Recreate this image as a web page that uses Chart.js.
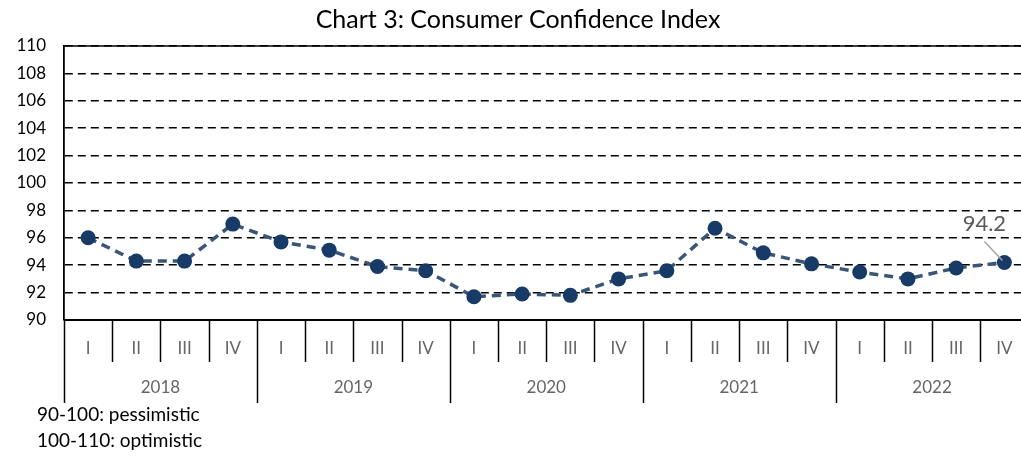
<!DOCTYPE html>
<html><head><meta charset="utf-8">
<script src="https://cdn.jsdelivr.net/npm/chart.js@4/dist/chart.umd.min.js"></script>
<style>
html,body{margin:0;padding:0;background:#fff;overflow:hidden;}
#wrap{position:relative;width:1036px;height:458px;}
.note{position:absolute;left:37px;font-family:Lato,sans-serif;font-size:19px;line-height:22px;color:#000;white-space:nowrap;}
</style></head>
<body>
<div id="wrap">
<canvas id="c" width="1036" height="458"></canvas>
<div class="note" style="top:403px">90-100: pessimistic</div>
<div class="note" style="top:429px">100-110: optimistic</div>
</div>
<script>
const quarters = ['I','II','III','IV','I','II','III','IV','I','II','III','IV','I','II','III','IV','I','II','III','IV'];
const years = ['2018','2019','2020','2021','2022'];
const cci = [96.0,94.3,94.3,97.0,95.7,95.1,93.9,93.6,91.7,91.9,91.8,93.0,93.6,96.7,94.9,94.1,93.5,93.0,93.8,94.2];
const lastLabel = '94.2';
const yTicks = {min:90, max:110, step:2};

const FONT = 'Lato, sans-serif';

const extras = {
  id:'extras',
  afterDraw(chart){
    const ctx = chart.ctx, a = chart.chartArea, xs = chart.scales.x;
    ctx.save();
    ctx.setLineDash([]);
    ctx.strokeStyle = '#000'; ctx.lineWidth = 1.5;
    ctx.beginPath(); ctx.moveTo(a.left, a.top); ctx.lineTo(a.right, a.top); ctx.stroke();
    ctx.lineWidth = 2;
    ctx.beginPath(); ctx.moveTo(a.left, a.bottom); ctx.lineTo(a.right, a.bottom); ctx.stroke();
    const n = quarters.length;
    const w = (xs.getPixelForValue(1) - xs.getPixelForValue(0));
    ctx.lineWidth = 1.5;
    for (let i = 0; i <= n; i++) {
      const x = Math.round(xs.getPixelForValue(0) - w/2 + i*w) + 0.5;
      const long = (i % 4 === 0);
      ctx.beginPath(); ctx.moveTo(x, a.bottom); ctx.lineTo(x, a.bottom + (long ? 83 : 42)); ctx.stroke();
    }
    ctx.fillStyle = '#666'; ctx.font = '17px '+FONT; ctx.textAlign='center'; ctx.textBaseline='middle';
    quarters.forEach((q,i)=>{ ctx.fillText(q, xs.getPixelForValue(i), a.bottom + 29); });
    years.forEach((y,j)=>{
      const cx = (xs.getPixelForValue(j*4) + xs.getPixelForValue(j*4+3))/2;
      ctx.fillText(y, cx, a.bottom + 68);
    });
    const meta = chart.getDatasetMeta(0);
    const p = meta.data[meta.data.length-1];
    ctx.strokeStyle = '#A6A6A6'; ctx.lineWidth = 1.5;
    ctx.beginPath(); ctx.moveTo(p.x-20, p.y-21); ctx.lineTo(p.x-2, p.y-2); ctx.stroke();
    ctx.fillStyle = '#595959'; ctx.font = '22px '+FONT;
    ctx.fillText(lastLabel, p.x-20, p.y-39);
    ctx.restore();
  }
};

new Chart(document.getElementById('c'), {
  type:'line',
  data:{
    labels: quarters,
    datasets:[{
      data: cci,
      borderColor:'#3A5677',
      borderWidth:3.5,
      borderDash:[9,6],
      pointRadius:7.5,
      pointBackgroundColor:'#173A66',
      pointBorderColor:'#173A66',
      pointBorderWidth:0,
      tension:0,
      fill:false
    }]
  },
  options:{
    responsive:false,
    animation:false,
    devicePixelRatio:1,
    layout:{padding:{left:0,right:0,top:0,bottom:138}},
    plugins:{
      legend:{display:false},
      tooltip:{enabled:false},
      title:{display:true,text:'Chart 3: Consumer Confidence Index',color:'#000',
        font:{family:FONT,size:25,weight:'normal'},padding:{top:5,bottom:11}}
    },
    scales:{
      y:{
        min:yTicks.min,max:yTicks.max,
        ticks:{stepSize:yTicks.step,color:'#000',font:{family:FONT,size:17},padding:18},
        grid:{color:'#000',lineWidth:1.6,drawTicks:false},
        border:{display:true,color:'#000',width:1.8,dash:[8,5]},
        afterFit(s){s.width=64;}
      },
      x:{
        type:'category',
        offset:true,
        display:false
      }
    }
  },
  plugins:[extras]
});
</script>
</body></html>
